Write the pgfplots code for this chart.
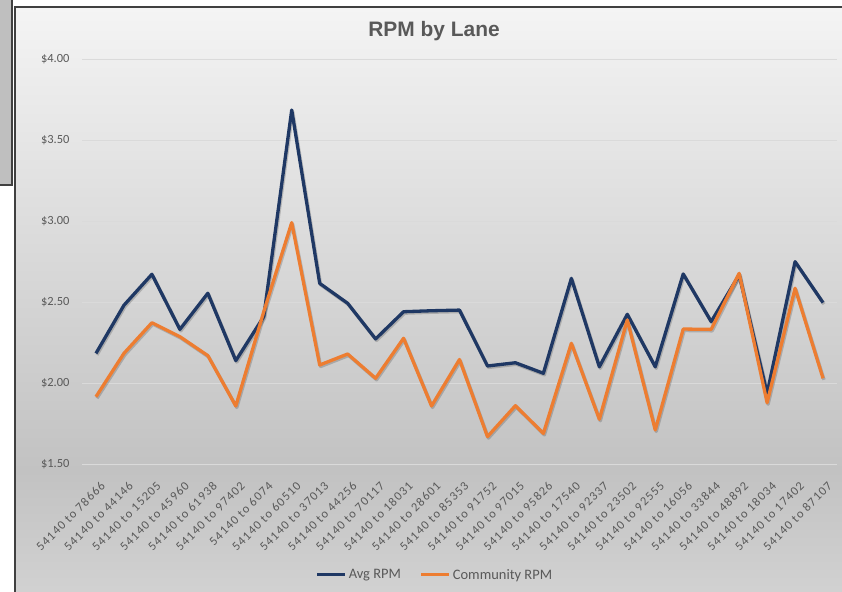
\documentclass[border=0pt]{standalone}
\usepackage{pgfplots}
\pgfplotsset{compat=1.18}
\usepackage{fontspec}
\setmainfont{Carlito}
\newfontfamily\titlefont{Liberation Sans}
\newfontfamily\tickfont[LetterSpace=9]{Carlito}
\definecolor{navy}{HTML}{1F3864}
\definecolor{orng}{HTML}{ED7D31}
\definecolor{txt}{HTML}{595959}
\definecolor{gridc}{HTML}{DADADA}
\definecolor{bgtop}{HTML}{F4F4F4}
\definecolor{bgmid}{HTML}{C2C2C2}
\definecolor{bgbot}{HTML}{D2D2D2}
\definecolor{frame}{HTML}{404040}
\definecolor{panel}{HTML}{BFBFBF}
\begin{document}
\begin{tikzpicture}[x=1bp,y=1bp]
\useasboundingbox (0,0) rectangle (842,592);
% left-top panel
\fill[panel] (0,407) rectangle (12,592);
\draw[frame,line width=1.5bp] (12,600) -- (12,407) -- (-2,407);
% chart background
\shade[top color=bgtop,bottom color=bgmid] (15,122) rectangle (850,585);
\shade[top color=bgmid,bottom color=bgbot] (15,-5) rectangle (850,122);
\draw[frame,line width=1.5bp] (15,-10) -- (15,585) -- (850,585);
\node[font=\titlefont\bfseries\fontsize{21}{24}\selectfont,text=txt] at (434,561) {RPM by Lane};
\begin{axis}[
  at={(82bp,128bp)}, anchor=south west,
  scale only axis, width=755bp, height=405bp,
  xmin=-0.5, xmax=26.5, ymin=1.5, ymax=4,
  axis line style={draw=none},
  tick style={draw=none},
  ytick={1.5,2,2.5,3,3.5,4},
  yticklabels={\$1.50,\$2.00,\$2.50,\$3.00,\$3.50,\$4.00},
  yticklabel style={font=\fontsize{12.5}{15}\selectfont,text=txt,xshift=-9bp},
  ymajorgrids, grid style={gridc,line width=0.9bp},
  xtick={0,...,26},
  xticklabels={54140 to 78666,54140 to 44146,54140 to 15205,54140 to 45960,54140 to 61938,54140 to 97402,54140 to 6074,54140 to 60510,54140 to 37013,54140 to 44256,54140 to 70117,54140 to 18031,54140 to 28601,54140 to 85353,54140 to 91752,54140 to 97015,54140 to 95826,54140 to 17540,54140 to 92337,54140 to 23502,54140 to 92555,54140 to 16056,54140 to 33844,54140 to 48892,54140 to 18034,54140 to 17402,54140 to 87107},
  xticklabel style={font=\tickfont\fontsize{12.5}{15}\selectfont,text=txt,rotate=45,anchor=east,inner sep=1bp,xshift=-8bp,yshift=-19bp},
  legend style={at={(0.4675,-0.274)},anchor=center,draw=none,fill=none,
    legend columns=2,font=\fontsize{14.5}{16}\selectfont,text=txt,
    /tikz/every even column/.append style={column sep=17bp},
    legend cell align=left, inner sep=0pt},
  legend image code/.code={\draw[#1,line width=3bp] (0bp,0bp) -- (28bp,0bp);},
]
\addplot[forget plot,black,opacity=0.18,line width=3.3bp,line join=round,xshift=1bp,yshift=-1.5bp] coordinates {
(0,2.183)(1,2.48)(2,2.671)(3,2.331)(4,2.554)(5,2.138)(6,2.41)(7,3.685)(8,2.615)(9,2.492)(10,2.272)(11,2.44)(12,2.446)(13,2.45)(14,2.105)(15,2.125)(16,2.06)(17,2.646)(18,2.10)(19,2.424)(20,2.10)(21,2.673)(22,2.379)(23,2.667)(24,1.936)(25,2.749)(26,2.496)};
\addplot[forget plot,black,opacity=0.18,line width=3.3bp,line join=round,xshift=1bp,yshift=-1.5bp] coordinates {
(0,1.915)(1,2.183)(2,2.372)(3,2.286)(4,2.169)(5,1.858)(6,2.44)(7,2.99)(8,2.111)(9,2.179)(10,2.029)(11,2.276)(12,1.858)(13,2.145)(14,1.669)(15,1.86)(16,1.689)(17,2.245)(18,1.776)(19,2.389)(20,1.71)(21,2.333)(22,2.331)(23,2.677)(24,1.878)(25,2.585)(26,2.029)};
\addplot[navy,line width=3.3bp,line join=round] coordinates {
(0,2.183)(1,2.48)(2,2.671)(3,2.331)(4,2.554)(5,2.138)(6,2.41)(7,3.685)(8,2.615)(9,2.492)(10,2.272)(11,2.44)(12,2.446)(13,2.45)(14,2.105)(15,2.125)(16,2.06)(17,2.646)(18,2.10)(19,2.424)(20,2.10)(21,2.673)(22,2.379)(23,2.667)(24,1.936)(25,2.749)(26,2.496)};
\addlegendentry{Avg RPM}
\addplot[orng,line width=3.3bp,line join=round] coordinates {
(0,1.915)(1,2.183)(2,2.372)(3,2.286)(4,2.169)(5,1.858)(6,2.44)(7,2.99)(8,2.111)(9,2.179)(10,2.029)(11,2.276)(12,1.858)(13,2.145)(14,1.669)(15,1.86)(16,1.689)(17,2.245)(18,1.776)(19,2.389)(20,1.71)(21,2.333)(22,2.331)(23,2.677)(24,1.878)(25,2.585)(26,2.029)};
\addlegendentry{Community RPM}
\end{axis}
\end{tikzpicture}
\end{document}
